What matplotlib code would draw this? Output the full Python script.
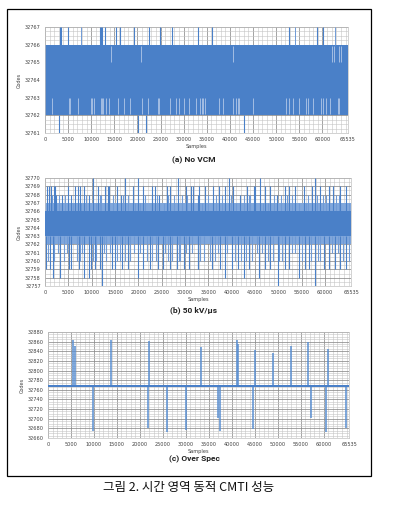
import matplotlib
matplotlib.use("Agg")
import matplotlib.pyplot as plt
from matplotlib.ticker import MultipleLocator, FixedLocator
from matplotlib.patches import Rectangle

# ---------------- data ----------------
x_ticks = [0, 5000, 10000, 15000, 20000, 25000, 30000, 35000, 40000, 45000, 50000, 55000, 60000, 65535]
n_samples = 65535

# (a) No VCM
a_band = [32762, 32766]
a_ylim = [32761, 32767]
a_up_x = [3300, 3450, 5000, 12000, 12150, 12300, 13000, 15400, 16200, 19300, 22600,
          24800, 27400, 33000, 36050, 52850, 58900, 60070]
a_up_y = [32767] * len(a_up_x)
a_up_light_x = [7700, 54150, 62800]
a_up_light_y = [32767] * len(a_up_light_x)
a_down_x = [2940, 20070, 21830, 43100]
a_down_y = [32761] * len(a_down_x)
a_gap_low_x = [1620, 5150, 5510, 7130, 9920, 10070, 10510, 12130, 12270, 12500, 13230, 13750,
               15800, 17130, 18380, 20950, 22270, 24480, 24620, 26980, 28300, 29030, 29990,
               31090, 32700, 33510, 33940, 34230, 34660, 37540, 38410, 40570, 41290, 41650,
               42010, 44900, 52110, 52830, 53550, 54990, 56430, 56940, 57870, 59680, 60040,
               60760, 61620, 63280, 63640]
a_gap_low_y = [32762.05, 32763.0]
a_gap_high_x = [14200, 20800, 40700, 62000, 62600, 63500, 64100]
a_gap_high_y = [32765.0, 32765.95]

# (b) 50 kV/us
b_core = [32763, 32766]
b_mid = [32762, 32767]
b_ylim = [32757, 32770]
b_up_x = [510, 880, 1250, 1840, 2200, 2430, 3680, 5000, 5660, 6390, 7130, 7420, 8310, 9410,
          10290, 11390, 12860, 13450, 13740, 15440, 16170, 17130, 18740, 19850, 20950, 22930,
          23520, 24480, 26090, 26830, 28520, 30140, 31240, 31780, 32850, 33080, 34280, 36070,
          37290, 38580, 39300, 40370, 41800, 43230, 44670, 45020, 46100, 47170, 48250, 49680,
          51470, 52180, 53620, 55410, 57200, 57900, 58990, 60780, 61640, 63280, 64360]
b_up_y = [32769, 32769, 32769, 32769, 32769, 32768, 32768, 32769, 32768, 32769, 32769, 32769,
          32769, 32768, 32770, 32769, 32769, 32769, 32769, 32769, 32768, 32770, 32769, 32770,
          32769, 32769, 32769, 32768, 32769, 32769, 32770, 32769, 32769, 32769, 32768, 32769,
          32769, 32769, 32769, 32769, 32770, 32769, 32768, 32769, 32769, 32769, 32770, 32769,
          32769, 32768, 32769, 32769, 32769, 32769, 32769, 32770, 32769, 32769, 32769, 32769,
          32769]
b_up_short_x = [1500, 4300, 6000, 8800, 10900, 12000, 14500, 17700, 19300, 21500, 24000,
                25500, 27600, 29300, 31800, 34900, 37900, 40900, 42600, 44000, 47700, 50600,
                52900, 54500, 56300, 59500, 62400, 65000, 2900, 7800, 11700, 16600, 20400,
                23000, 26400, 30500, 33600, 36700, 39800, 43600, 46600, 49100, 51900, 55800,
                58300, 60200, 63000]
b_up_short_y = [32768, 32768, 32767, 32768, 32767, 32768, 32768, 32768, 32767, 32768, 32768,
                32767, 32768, 32768, 32767, 32768, 32768, 32767, 32768, 32768, 32767, 32768,
                32768, 32767, 32768, 32768, 32768, 32767, 32768, 32767, 32768, 32768, 32767,
                32768, 32768, 32768, 32767, 32768, 32768, 32768, 32767, 32768, 32768, 32767,
                32768, 32768, 32768]
b_down_x = [150, 1100, 1620, 3160, 5150, 5660, 7350, 8310, 9330, 9920, 10660, 11760, 12270,
            14330, 15070, 16540, 17710, 19850, 20950, 22420, 24260, 25360, 26830, 28300, 29770,
            30870, 32710, 32850, 35720, 37510, 38580, 40010, 41440, 42520, 43590, 45880, 47170,
            48250, 49900, 51470, 52180, 54330, 55760, 56480, 57900, 59700, 60780, 62210, 63280,
            64360]
b_down_y = [32759, 32759, 32758, 32758, 32759, 32759, 32759, 32758, 32758, 32759, 32759, 32759,
            32757, 32759, 32759, 32759, 32759, 32758, 32759, 32759, 32759, 32759, 32759, 32759,
            32759, 32759, 32759, 32759, 32759, 32759, 32758, 32759, 32759, 32758, 32759, 32758,
            32759, 32759, 32757, 32759, 32759, 32758, 32759, 32759, 32757, 32759, 32759, 32759,
            32759, 32759]
b_down_short_x = [600, 2700, 4000, 6800, 8000, 11000, 13000, 14000, 16000, 18300, 19000, 21900,
                  23000, 25800, 27300, 29000, 31500, 34000, 36500, 39000, 42000, 44300, 46500,
                  48800, 50700, 53000, 55000, 58500, 61500, 63800, 65200, 2000, 4700, 7600,
                  10300, 12700, 15500, 17200, 20300, 23700, 26300, 28800, 30300, 33300, 35300,
                  37000, 40600, 43000, 45400, 47800, 50200, 53600, 56900, 59000, 62700]
b_down_short_y = [32760, 32761, 32760, 32760, 32761, 32760, 32760, 32761, 32760, 32760, 32761,
                  32760, 32760, 32761, 32760, 32760, 32761, 32760, 32760, 32761, 32760, 32760,
                  32761, 32760, 32760, 32761, 32760, 32760, 32761, 32760, 32760, 32760, 32761,
                  32760, 32760, 32761, 32760, 32760, 32761, 32760, 32760, 32760, 32761, 32760,
                  32760, 32761, 32760, 32760, 32761, 32760, 32760, 32761, 32760, 32760, 32761]

# (c) Over Spec
c_base = 32768
c_base_band = [32765, 32771]
c_ylim = [32660, 32880]
c_spike_x = [5400, 5850, 13800, 22000, 33240, 41080, 41300, 45130, 49050, 52900, 56670, 61030,
             9900, 21700, 26000, 29950, 37080, 37450, 44700, 57200, 60520, 64880]
c_spike_y = [32864, 32850, 32864, 32861, 32849, 32863, 32856, 32842, 32836, 32850, 32860, 32845,
             32675, 32680, 32672, 32677, 32702, 32675, 32679, 32702, 32672, 32680]

titles = ["(a) No VCM", "(b) 50 kV/\u00b5s", "(c) Over Spec"]
caption = "그림 2. 시간 영역 동적 CMTI 성능"

# ---------------- style ----------------
BLUE = "#4a80c8"
LIGHT = "#6f9ad6"
GAP = "#c6d6ee"

W, H = 393, 511
fig = plt.figure(figsize=(W / 100, H / 100), dpi=100)
fig.patch.set_facecolor("white")

def px_axes(x0, y0, x1, y1):
    return fig.add_axes([x0 / W, 1 - y1 / H, (x1 - x0) / W, (y1 - y0) / H])

def style(ax, ylim, ymajor, yminor):
    ax.set_xlim(0, n_samples)
    ax.set_ylim(*ylim)
    ax.xaxis.set_major_locator(FixedLocator(x_ticks))
    ax.xaxis.set_minor_locator(MultipleLocator(1000))
    ax.yaxis.set_major_locator(MultipleLocator(ymajor))
    ax.yaxis.set_minor_locator(MultipleLocator(yminor))
    ax.grid(which="major", color="#8a8a8a", lw=0.55, zorder=0)
    ax.grid(which="minor", color="#c4c4c4", lw=0.4, zorder=0)
    ax.set_axisbelow(True)
    ax.tick_params(which="both", length=0, labelsize=3.6, colors="#404040", pad=3)
    ax.yaxis.set_major_formatter(matplotlib.ticker.FuncFormatter(lambda v, p: f"{int(round(v))}"))
    for s in ax.spines.values():
        s.set_color("#c0c0c0")
        s.set_linewidth(0.5)
    ax.set_xlabel("Samples", fontsize=3.6, color="#404040", labelpad=1)
    ax.set_ylabel("Codes", fontsize=3.6, color="#404040", labelpad=2)

# (a)
ax = px_axes(45, 27, 348, 133)
style(ax, a_ylim, 1, 0.25)
ax.fill_between([0, n_samples], a_band[0], a_band[1], color=BLUE, lw=0, zorder=2)
ax.vlines(a_gap_low_x, a_gap_low_y[0], a_gap_low_y[1], color=GAP, lw=0.5, zorder=3)
ax.vlines(a_gap_high_x, a_gap_high_y[0], a_gap_high_y[1], color=GAP, lw=0.5, zorder=3)
ax.vlines(a_up_x, a_band[1], a_up_y, color=BLUE, lw=0.8, zorder=3)
ax.vlines(a_up_light_x, a_band[1], a_up_light_y, color=LIGHT, lw=0.7, zorder=3)
ax.vlines(a_down_x, a_down_y, a_band[0], color=BLUE, lw=0.8, zorder=3)

# (b)
ax = px_axes(45, 178, 351, 286)
style(ax, b_ylim, 1, 0.5)
ax.fill_between([0, n_samples], b_mid[0], b_mid[1], color="#80a7dc", lw=0, zorder=2)
ax.vlines(b_up_short_x, b_core[1], b_up_short_y, color=LIGHT, lw=0.8, zorder=3)
ax.vlines(b_down_short_x, b_down_short_y, b_core[0], color=LIGHT, lw=0.8, zorder=3)
ax.vlines(b_up_x, b_core[1], b_up_y, color=BLUE, lw=0.8, zorder=3)
ax.vlines(b_down_x, b_down_y, b_core[0], color=BLUE, lw=0.8, zorder=3)
ax.fill_between([0, n_samples], b_core[0], b_core[1], color=BLUE, lw=0, zorder=4)

# (c)
ax = px_axes(48, 332, 349, 438)
style(ax, c_ylim, 20, 5)
ax.vlines(c_spike_x, c_base, c_spike_y, color="#5a8fd2", lw=1.1, zorder=3)
ax.fill_between([0, n_samples], c_base_band[0], c_base_band[1], color=BLUE, lw=0, zorder=4)

# titles
for t, y in zip(titles, [160, 310, 459]):
    fig.text(194 / W, 1 - y / H, t, ha="center", va="center", fontsize=6,
             fontweight="bold", family="Roboto", color="#222222")

# border
fig.add_artist(Rectangle((7 / W, 1 - 476 / H), (371 - 7) / W, (476 - 9) / H,
                         transform=fig.transFigure, fill=False, lw=0.9, ec="black"))

fig.text(189 / W, 1 - 488 / H, caption, ha="center", va="center", fontsize=9,
         family=["Noto Sans CJK KR", "DejaVu Sans"], color="#111111")

fig.savefig("out.png", dpi=100)
